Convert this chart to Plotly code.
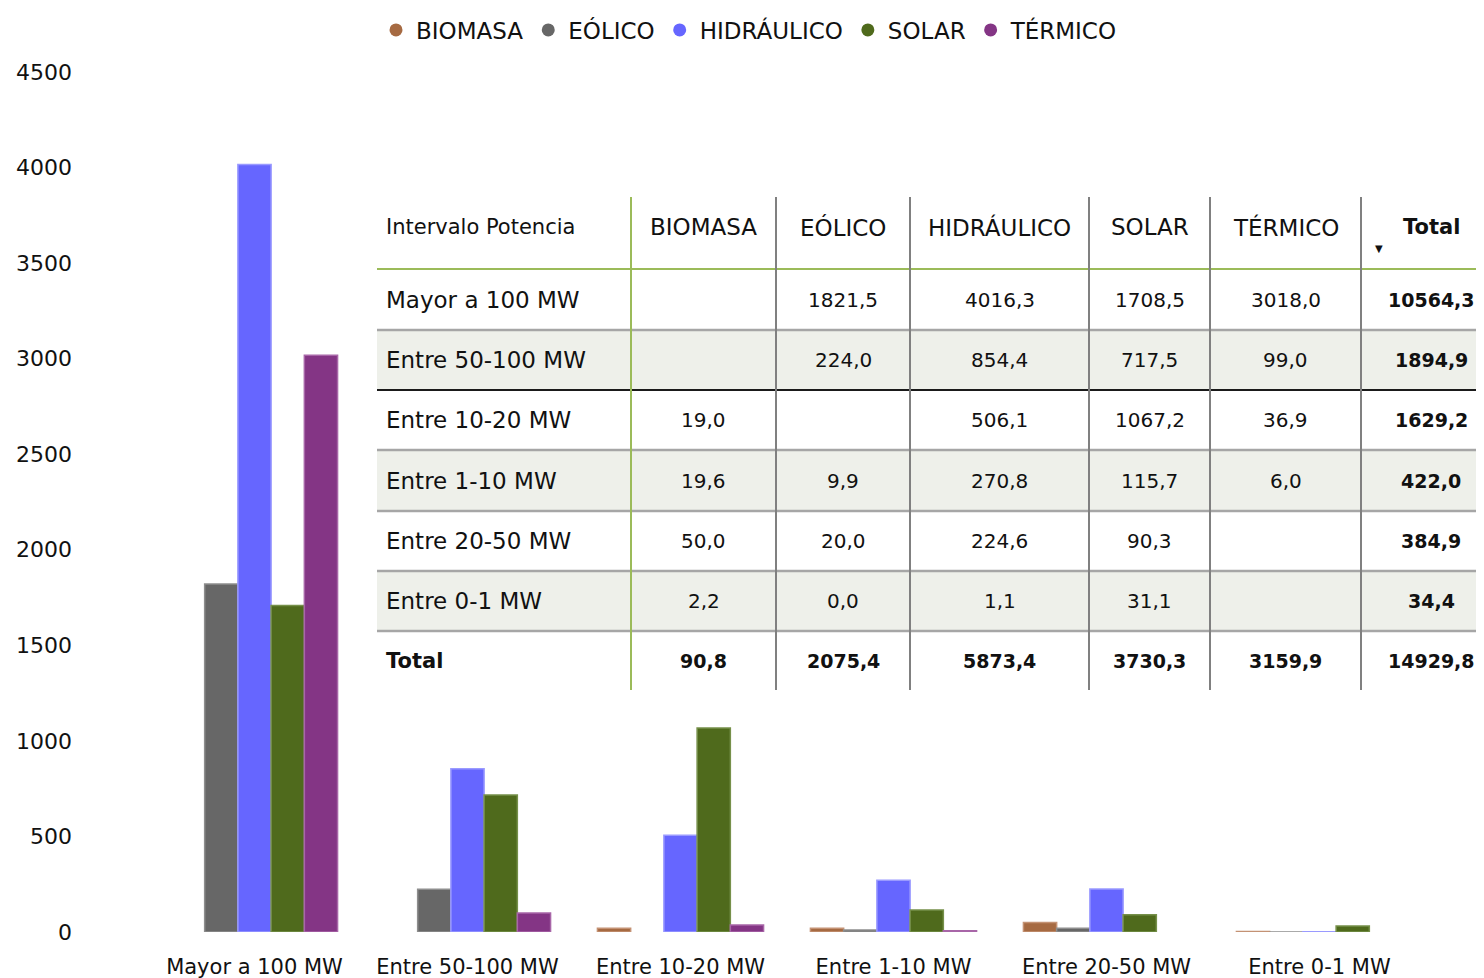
import plotly.graph_objects as go

# ---------------- data ----------------
categories = ["Mayor a 100 MW", "Entre 50-100 MW", "Entre 10-20 MW",
              "Entre 1-10 MW", "Entre 20-50 MW", "Entre 0-1 MW"]
series_names = ["BIOMASA", "EÓLICO", "HIDRÁULICO", "SOLAR", "TÉRMICO"]
biomasa = [None, None, 19.0, 19.6, 50.0, 2.2]
eolico = [1821.5, 224.0, None, 9.9, 20.0, 0.0]
hidraulico = [4016.3, 854.4, 506.1, 270.8, 224.6, 1.1]
solar = [1708.5, 717.5, 1067.2, 115.7, 90.3, 31.1]
termico = [3018.0, 99.0, 36.9, 6.0, None, None]
row_totals = [10564.3, 1894.9, 1629.2, 422.0, 384.9, 34.4]
col_totals = [90.8, 2075.4, 5873.4, 3730.3, 3159.9]
grand_total = 14929.8
y_ticks = [0, 500, 1000, 1500, 2000, 2500, 3000, 3500, 4000, 4500]

colors = ["#A66A42", "#676767", "#6666FF", "#4F6A1C", "#843585"]
line_colors = ["#C49274", "#8E8E8E", "#9A9AFF", "#76904A", "#A866A8"]
values = [biomasa, eolico, hidraulico, solar, termico]

# ---------------- layout geometry (page pixels) ----------------
W, H = 1484, 978
OFF = 8                      # default body margin of the html page
PL, PT, PR, PB = 148, 72, 1426, 932   # plot area in page pixels
PW, PH = PR - PL, PB - PT
ML, MT = PL - OFF, PT - OFF
MR, MB = W - ML - PW, H - MT - PH


def px(x):
    return (x - PL) / PW


def py(y):
    return (PB - y) / PH


FT = "DejaVu Sans"
BLACK = "#111111"

fig = go.Figure()
for name, vals, c, lc in zip(series_names, values, colors, line_colors):
    fig.add_trace(go.Bar(x=categories, y=vals, name=name, marker_color=c,
                         marker_line=dict(color=lc, width=1.5),
                         showlegend=False))
# legend entries with round markers
for name, c in zip(series_names, colors):
    fig.add_trace(go.Scatter(x=[None], y=[None], mode="markers", name=name,
                             marker=dict(color=c, size=13, symbol="circle"),
                             showlegend=True))

# ---------------- table ----------------
fmt = lambda v: "" if v is None else f"{v:.1f}".replace(".", ",")
col_edges = [377, 631, 776, 910, 1089, 1210, 1361, 1500]
row_edges = [197, 269, 330, 390, 450, 511, 571, 631, 690]
col_centers = [(col_edges[i] + col_edges[i + 1]) / 2 for i in range(1, 6)] + [1431]

shapes = []
ann = []


def text(x, y, s, size, anchor="center", bold=False, family=FT):
    ann.append(dict(x=px(x), y=py(y), xref="paper", yref="paper",
                    text=("<b>%s</b>" % s) if bold else s, showarrow=False,
                    xanchor=anchor, yanchor="middle",
                    font=dict(family=family, size=size, color=BLACK)))


shapes.append(dict(type="rect", xref="paper", yref="paper", x0=px(377), x1=px(1500),
                   y0=py(row_edges[-1]), y1=py(row_edges[0]), fillcolor="white",
                   line=dict(width=0), layer="above"))
for r in range(len(categories)):
    if r % 2 == 1:
        shapes.append(dict(type="rect", xref="paper", yref="paper", x0=px(377), x1=px(1500),
                           y0=py(row_edges[r + 2]), y1=py(row_edges[r + 1]),
                           fillcolor="#EEF0EA", line=dict(width=0), layer="above"))
for i, y in enumerate(row_edges[1:-1]):
    if i == 0:
        col, wd = "#9BBB59", 2
    elif i == 2:
        col, wd = "#1A1A1A", 2
    else:
        col, wd = "#A6A6A6", 2.5
    shapes.append(dict(type="line", xref="paper", yref="paper", x0=px(377), x1=px(1500),
                       y0=py(y), y1=py(y), line=dict(color=col, width=wd), layer="above"))
for i, x in enumerate(col_edges[1:-1]):
    col = "#9BBB59" if i == 0 else "#808080"
    shapes.append(dict(type="line", xref="paper", yref="paper", x0=px(x), x1=px(x),
                       y0=py(row_edges[-1]), y1=py(row_edges[0]),
                       line=dict(color=col, width=2), layer="above"))

header_y = 227
text(384, header_y, "Intervalo Potencia", 21, anchor="left")
for name, cx in zip(series_names, col_centers[:5]):
    text(cx, header_y, name, 23)
text(col_centers[5], header_y, "Total", 21, bold=True)
text(1379, 249, "▼", 10)

for r, cat in enumerate(categories):
    yc = (row_edges[r + 1] + row_edges[r + 2]) / 2
    text(384, yc, cat, 23, anchor="left")
    for s in range(5):
        text(col_centers[s], yc, fmt(values[s][r]), 20)
    text(col_centers[5], yc, fmt(row_totals[r]), 19, bold=True)
yc = (row_edges[-2] + row_edges[-1]) / 2
text(384, yc, "Total", 21, anchor="left", bold=True)
for s in range(5):
    text(col_centers[s], yc, fmt(col_totals[s]), 19, bold=True)
text(col_centers[5], yc, fmt(grand_total), 19, bold=True)

fig.update_layout(
    width=W, height=H,
    margin=dict(l=ML, r=MR, t=MT, b=MB, autoexpand=False),
    paper_bgcolor="white", plot_bgcolor="white",
    barmode="group", bargap=0.22, bargroupgap=0,
    showlegend=True,
    legend=dict(orientation="h", x=px(749), xanchor="center", y=py(30), yanchor="middle",
                font=dict(family=FT, size=23, color=BLACK), itemwidth=30,
                bgcolor="rgba(0,0,0,0)"),
    xaxis=dict(showgrid=False, zeroline=False, showline=False, ticks="",
               tickfont=dict(family=FT, size=21, color=BLACK), ticklabelstandoff=20),
    yaxis=dict(range=[0, 4500], tickvals=y_ticks, showgrid=False, zeroline=False,
               showline=False, ticks="", tickfont=dict(family=FT, size=22, color=BLACK),
               ticklabelstandoff=75),
    shapes=shapes, annotations=ann,
)
fig.write_html("out.html")
